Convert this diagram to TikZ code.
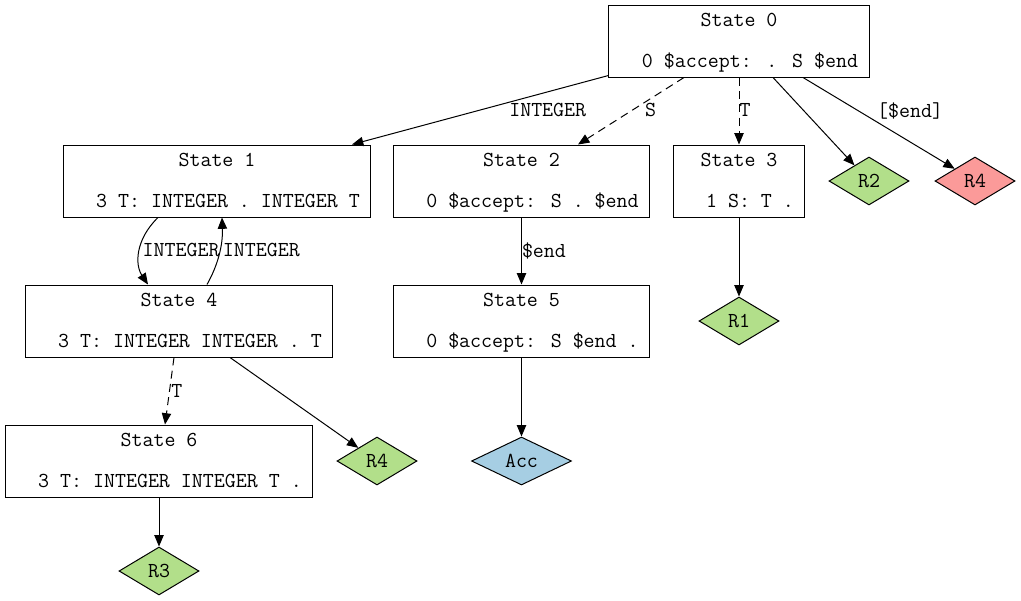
\documentclass[tikz,border=0pt]{standalone}
\usepackage{fontspec}
\usetikzlibrary{calc,shapes.geometric,arrows.meta}
\newfontfamily\statefont{Latin Modern Mono}
\newcommand{\gvfont}{\statefont\fontsize{16pt}{16pt}\selectfont}
\newcommand{\stlabel}[2]{\rule{0pt}{14.2pt}#1\\[14.75pt]\hphantom{00}#2\rule[-4.8pt]{0pt}{4.8pt}}
\definecolor{redfill}{HTML}{FB9A99}
\definecolor{greenfill}{HTML}{B2DF8A}
\definecolor{bluefill}{HTML}{A6CEE3}
\tikzset{
	state/.style={draw, line width=0.75pt, rectangle, align=center, inner xsep=8.25pt, inner ysep=0pt, minimum height=54pt, font=\gvfont},
	reduce/.style={draw, line width=0.75pt, diamond, inner sep=0pt, minimum width=60pt, minimum height=36pt, font=\gvfont},
	lbl/.style={inner sep=0pt, anchor=west, font=\gvfont},
	edge/.style={line width=0.75pt, -{Triangle[length=8.5pt,width=7pt]}},
	dashededge/.style={edge, dash pattern=on 6pt off 4pt}
}

\begin{document}
\begin{tikzpicture}[x=0.75pt, y=-0.75pt]
	%%%%% START %%%%%
	\useasboundingbox (0, 0) rectangle (1021, 600);
	
	\node[state] (s0) at (739, 41) {\stlabel{State 0}{0 \$accept: . S \$end}};
	
	\node[state] (s1) at (217, 181) {\stlabel{State 1}{3 T: INTEGER . INTEGER T}};
	\node[state] (s2) at (521.5, 181) {\stlabel{State 2}{0 \$accept: S . \$end}};
	\node[state] (s3) at (739, 181) {\stlabel{State 3}{1 S: T .}};
	\node[reduce, fill=greenfill] (r2) at (869, 181) {R2};
	\node[reduce, fill=redfill] (r4a) at (975, 181) {R4};
	
	\node[state] (s4) at (179, 321) {\stlabel{State 4}{3 T: INTEGER INTEGER . T}};
	\node[state] (s5) at (521.5, 321) {\stlabel{State 5}{0 \$accept: S \$end .}};
	\node[reduce, fill=greenfill] (r1) at (739, 321) {R1};
	
	\node[state] (s6) at (159, 461) {\stlabel{State 6}{3 T: INTEGER INTEGER T .}};
	\node[reduce, fill=greenfill] (r4b) at (377, 461) {R4};
	\node[reduce, fill=bluefill, minimum width=75pt] (acc) at (521.5, 461) {Acc};
	
	\node[reduce, fill=greenfill] (r3) at (159, 571) {R3};
	
	% from state 0
	\draw[edge] ($(s0.south west)+(0, -2)$) -- ($(s1.north)+(135, 0)$)
		node[lbl, pos=0.5, xshift=21.4pt] {INTEGER};
	\draw[dashededge] ($(s0.south)+(-55, 0)$) -- ($(s2.north)+(56.5, 0)$)
		node[lbl, pos=0.485, xshift=9pt] {S};
	\draw[dashededge] (s0.south) -- (s3.north)
		node[lbl, pos=0.49] {T};
	\draw[edge] ($(s0.south)+(34, 0)$) -- (r2);
	\draw[edge] ($(s0.south)+(64, 0)$) -- (r4a)
		node[lbl, pos=0.363, xshift=14pt] {[\$end]};
	
	% between state 1 and state 4
	\draw[edge] ($(s1.south)+(-59, 0)$) .. controls (135, 240) and (135, 265) .. ($(s4.north)+(-31, 0)$)
		node[lbl, pos=0.5, xshift=2pt, yshift=1.5pt] {INTEGER};
	\draw[edge] ($(s4.north)+(28, 0)$) .. controls (218, 265) and (223, 245) .. ($(s1.south)+(5, 0)$)
		node[lbl, pos=0.5, xshift=2.6pt, yshift=3pt] {INTEGER};
	
	\draw[edge] (s2.south) -- (s5.north)
		node[lbl, pos=0.5] {\$end};
	\draw[edge] (s3.south) -- (r1.north);
	
	% from state 4
	\draw[dashededge] ($(s4.south)+(-5, 0)$) -- ($(s6.north)+(6, 0)$)
		node[lbl, pos=0.5, xshift=1pt] {T};
	\draw[edge] ($(s4.south)+(51, 0)$) -- (r4b);
	
	\draw[edge] (s5.south) -- (acc.north);
	\draw[edge] (s6.south) -- (r3.north);
	%%%%% END %%%%%
\end{tikzpicture}
\end{document}
